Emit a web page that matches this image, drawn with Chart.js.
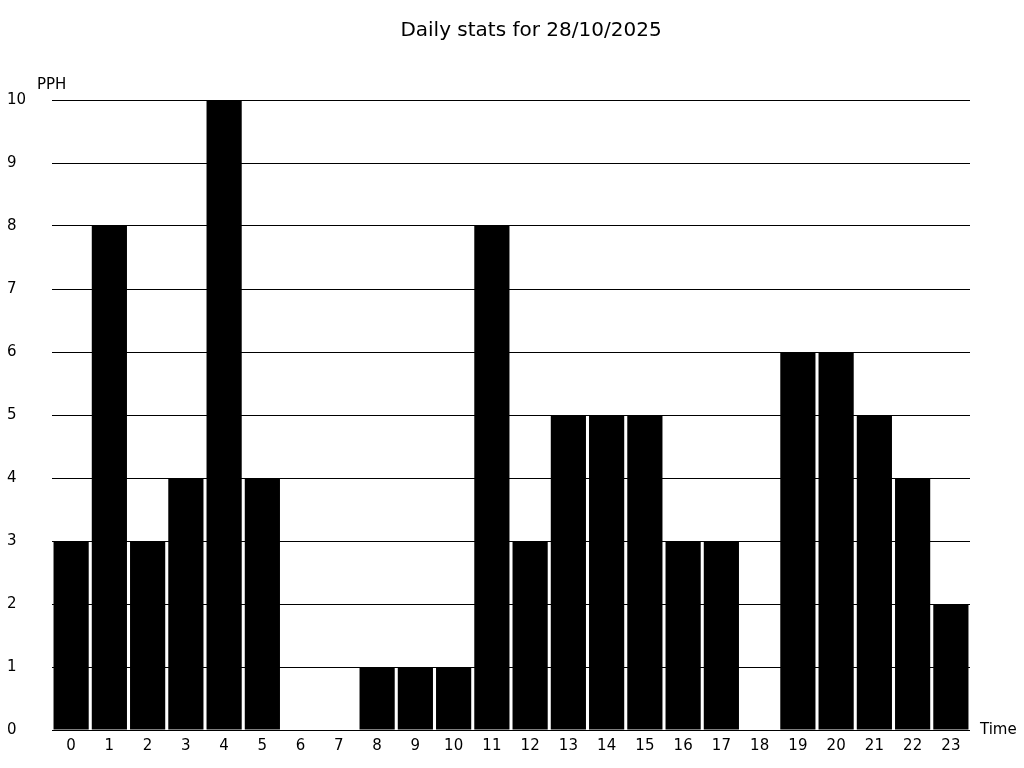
<!DOCTYPE html>
<html>
<head>
<meta charset="utf-8">
<script src="https://cdn.jsdelivr.net/npm/chart.js@4/dist/chart.umd.min.js"></script>
<style>
  body { margin: 0; background: #fff; }
  #wrap { width: 1024px; height: 768px; }
</style>
</head>
<body>
<div id="wrap"><canvas id="statsChart" width="1024" height="768"></canvas></div>
<script>
const hours = ["0","1","2","3","4","5","6","7","8","9","10","11","12","13","14","15","16","17","18","19","20","21","22","23"];
const pph = [3, 8, 3, 4, 10, 4, 0, 0, 1, 1, 1, 8, 3, 5, 5, 5, 3, 3, 0, 6, 6, 5, 4, 2];
const yTicks = [0, 1, 2, 3, 4, 5, 6, 7, 8, 9, 10];
const titleText = "Daily stats for 28/10/2025";
const yLabel = "PPH";
const xLabel = "Time";

Chart.defaults.font.family = "'DejaVu Sans', sans-serif";
Chart.defaults.color = "#000";

// title + axis names drawn on the canvas
const labelsPlugin = {
  id: "labels",
  afterDraw(chart) {
    const ctx = chart.ctx;
    const area = chart.chartArea;
    ctx.save();
    ctx.fillStyle = "#000";
    ctx.textBaseline = "middle";
    ctx.font = "20px 'DejaVu Sans'";
    ctx.textAlign = "center";
    ctx.fillText(titleText, 531, 31);
    ctx.font = "15px 'DejaVu Sans'";
    ctx.textAlign = "left";
    ctx.fillText(yLabel, 37, 85);
    ctx.fillText(xLabel, area.right + 10, area.bottom);
    ctx.restore();
  }
};

new Chart("statsChart", {
  type: "bar",
  data: {
    labels: hours,
    datasets: [{
      data: pph,
      backgroundColor: "#000",
      borderWidth: 0,
      barPercentage: 0.92,
      categoryPercentage: 1.0
    }]
  },
  options: {
    responsive: false,
    animation: false,
    layout: { padding: { top: 100, right: 54, left: 7, bottom: 0 } },
    plugins: {
      legend: { display: false },
      title: { display: false },
      tooltip: { enabled: false }
    },
    scales: {
      x: {
        grid: { display: false, drawTicks: false },
        border: { display: false },
        ticks: { font: { size: 15 }, padding: 7, maxRotation: 0, autoSkip: false },
        afterFit(scale) { scale.height = 38; }
      },
      y: {
        min: 0,
        max: 10,
        afterBuildTicks(scale) { scale.ticks = yTicks.map(v => ({ value: v })); },
        grid: { color: "#000", lineWidth: 1, drawTicks: false },
        border: { display: false },
        ticks: { font: { size: 15 }, crossAlign: "far", padding: 8 },
        afterFit(scale) { scale.width = 45; }
      }
    }
  },
  plugins: [labelsPlugin]
});
</script>
</body>
</html>
